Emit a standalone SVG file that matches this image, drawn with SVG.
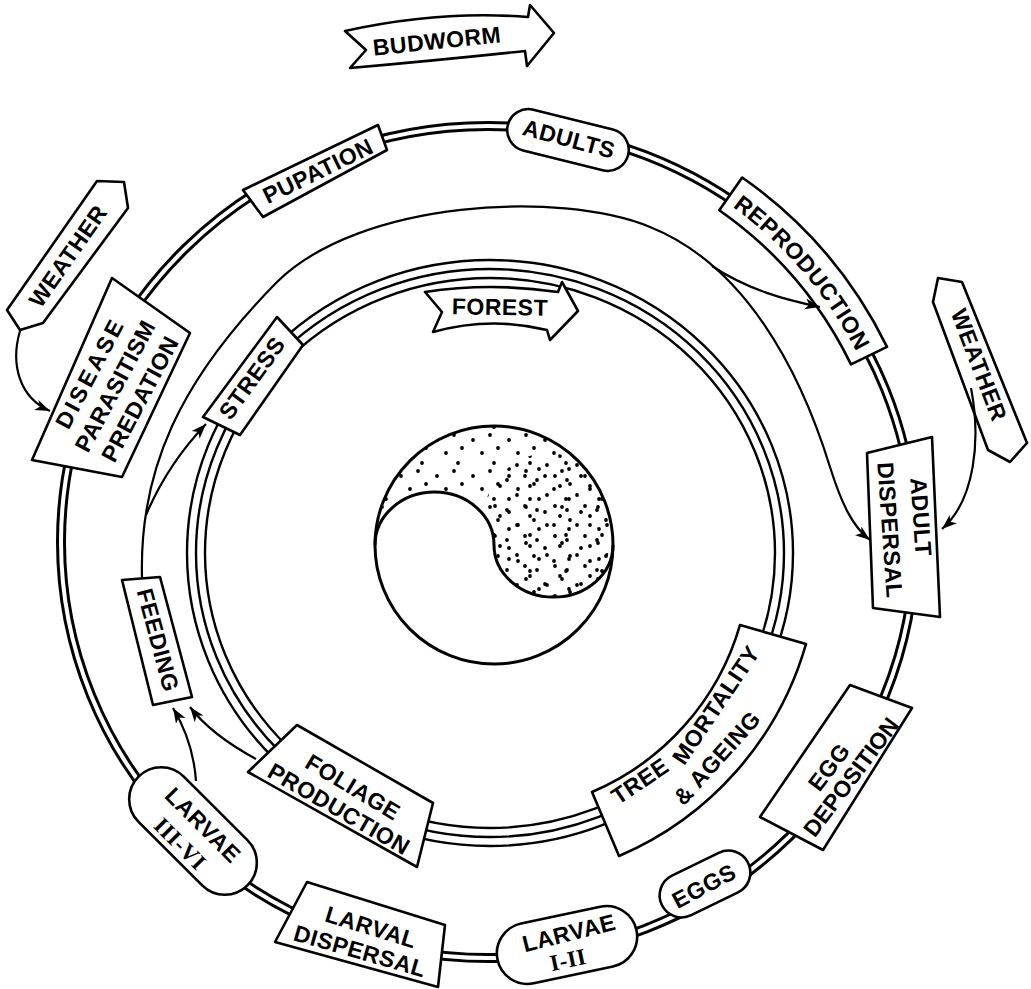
<svg xmlns="http://www.w3.org/2000/svg" width="1031" height="989" viewBox="0 0 1031 989">
<defs>
<style>
.box{fill:#fff;stroke:#000;stroke-width:2.6;stroke-linejoin:round}
.t{font-family:"Liberation Sans",Arial,sans-serif;font-weight:bold;font-size:23px;letter-spacing:0.5px;fill:#000}
.c{text-anchor:middle;dominant-baseline:central}
.sr{font-family:"Liberation Serif","Times New Roman",serif}
.con{fill:none;stroke:#000;stroke-width:2.2;marker-end:url(#ah)}
.r1{fill:none;stroke:#000;stroke-width:10}
.r1w{fill:none;stroke:#fff;stroke-width:4}
.r2{fill:none;stroke:#000;stroke-width:2.4}
</style>
<marker id="ah" viewBox="0 0 16 12" markerWidth="16" markerHeight="12" refX="15" refY="6" orient="auto" markerUnits="userSpaceOnUse"><path d="M0,0.5 L15,6 L0,11.5 L4,6 Z"/></marker>
<path id="pRep" d="M523.2,128.1 A415.5,415.5 0 0 1 901.5,571"/>
<pattern id="stA" width="36" height="36" patternUnits="userSpaceOnUse"><circle cx="5" cy="8" r="1.9"/><circle cx="22" cy="3" r="1.9"/><circle cx="14" cy="21" r="1.9"/><circle cx="30" cy="16" r="1.9"/><circle cx="26" cy="31" r="1.9"/></pattern>
<pattern id="stB" x="4" y="2" width="30" height="30" patternUnits="userSpaceOnUse"><circle cx="3" cy="13" r="1.9"/><circle cx="16" cy="4" r="1.9"/><circle cx="25" cy="17" r="1.9"/><circle cx="11" cy="24" r="1.9"/><circle cx="23" cy="28" r="1.9"/></pattern>
<clipPath id="yyClip"><path d="M375,545 A59.5,53 0 0 1 494,545 A59.5,52 0 0 0 613,545 A119,119 0 0 0 375,545 Z"/></clipPath>
</defs>
<rect width="1031" height="989" fill="#fff"/>

<g id="rings">
<ellipse class="r1" cx="488" cy="542" rx="427" ry="416"/>
<ellipse class="r1w" cx="488" cy="542" rx="427" ry="416"/>
<ellipse class="r2" cx="490" cy="553" rx="303" ry="293"/>
<ellipse class="r2" cx="490" cy="553" rx="294" ry="284"/>
<ellipse class="r2" cx="490" cy="553" rx="285" ry="275"/>
</g>

<g id="yinyang">
<circle cx="494" cy="545" r="119" fill="#fff"/>
<path d="M375,545 A59.5,53 0 0 1 494,545 A59.5,52 0 0 0 613,545 A119,119 0 0 0 375,545 Z" fill="url(#stA)"/>
<g clip-path="url(#yyClip)"><ellipse cx="548" cy="525" rx="66" ry="72" fill="url(#stB)"/></g>
<path d="M375,545 A59.5,53 0 0 1 494,545 A59.5,52 0 0 0 613,545" fill="none" stroke="#000" stroke-width="3"/>
<circle cx="494" cy="545" r="119" fill="none" stroke="#000" stroke-width="3"/>
</g>

<g id="n-budworm">
<path class="box" d="M345,31 Q440,10 528,17 L530,5 L554,33 L527,66 L525,51 Q440,60 350,68 L366,50 Z"/>
<text class="t c" transform="translate(437,41) rotate(-6)">BUDWORM</text>
</g>
<g id="n-forest">
<path class="box" d="M425,292 Q490,282 558,292 L562,282 L578,311 L550,340 L547,330 Q490,316 433,332 L442,312 Z"/>
<text class="t c" transform="translate(500,307) rotate(1)">FOREST</text>
</g>
<g id="n-adults">
<rect class="box" x="-62" y="-21" width="124" height="42" rx="21" transform="translate(568,140) rotate(14)"/>
<text class="t c" transform="translate(569,139) rotate(15)">ADULTS</text>
</g>
<g id="n-pupation">
<polygon class="box" points="243,190 378,125 387,150 263,217"/>
<text class="t c" transform="translate(318,171) rotate(-26)">PUPATION</text>
</g>
<g id="n-reproduction">
<path class="box" d="M719.3,210.2 L742.2,177.5 A445,445 0 0 1 887,346.9 L851,364.4 A405,405 0 0 0 719.3,210.2 Z"/>
<text class="t"><textPath href="#pRep" startOffset="50%" text-anchor="middle">REPRODUCTION</textPath></text>
</g>
<g id="n-weather-right">
<polygon class="box" points="933,302 938,278 962,282 1027,443 1010,462 988,450"/>
<text class="t c" transform="translate(979,365) rotate(69)">WEATHER</text>
</g>
<g id="n-weather-left">
<polygon class="box" points="97,181 124,182 128,208 43,323 20,330 7,310"/>
<text class="t c" transform="translate(68,256) rotate(-55)">WEATHER</text>
</g>
<g id="n-disease">
<polygon class="box" points="112,278 190,333 122,477 32,460"/>
<text class="t c" style="letter-spacing:3px" transform="translate(90,373) rotate(-62)">DISEASE</text>
<text class="t c" transform="translate(115,386) rotate(-62)">PARASITISM</text>
<text class="t c" transform="translate(140,399) rotate(-62)">PREDATION</text>
</g>
<g id="n-adult-dispersal">
<polygon class="box" points="867,453 932,437 940,617 873,608"/>
<text class="t c" transform="translate(921,517) rotate(86)">ADULT</text>
<text class="t c" transform="translate(890,530) rotate(86)">DISPERSAL</text>
</g>
<g id="n-egg-deposition">
<polygon class="box" points="850,685 912,708 823,850 760,817"/>
<text class="t c" transform="translate(829,767) rotate(-53)">EGG</text>
<text class="t c" style="letter-spacing:0" transform="translate(851,777) rotate(-53)">DEPOSITION</text>
</g>
<g id="n-eggs">
<rect class="box" x="-48" y="-22" width="96" height="44" rx="22" transform="translate(705,884) rotate(-26)"/>
<text class="t c" transform="translate(704,886) rotate(-28)">EGGS</text>
</g>
<g id="n-larvae-1-2">
<rect class="box" x="-71" y="-30.5" width="142" height="61" rx="30.5" transform="translate(567,945) rotate(-12)"/>
<text class="t c" transform="translate(569,933) rotate(-14)">LARVAE</text>
<text class="t c sr" transform="translate(568,960) rotate(-12)">I-II</text>
</g>
<g id="n-larval-dispersal">
<polygon class="box" points="307,882 445,925 438,987 275,942"/>
<text class="t c" transform="translate(371,927) rotate(17)">LARVAL</text>
<text class="t c" transform="translate(360,951) rotate(16)">DISPERSAL</text>
</g>
<g id="n-larvae-3-6">
<rect class="box" x="-77" y="-32" width="154" height="64" rx="32" transform="translate(193,831) rotate(45)"/>
<text class="t c" transform="translate(203,825) rotate(45)">LARVAE</text>
<text class="t c sr" transform="translate(180,844) rotate(45)">III-VI</text>
</g>
<g id="n-foliage">
<polygon class="box" points="297,725 433,803 417,867 248,772"/>
<text class="t c" transform="translate(353,787) rotate(31)">FOLIAGE</text>
<text class="t c" transform="translate(339,809) rotate(30)">PRODUCTION</text>
</g>
<g id="n-tree">
<path class="box" d="M740,625 L806,644 A329,329 0 0 1 619,856 L592,792 A260,260 0 0 0 740,625 Z"/>
<text class="t c" transform="translate(640,781) rotate(-34)">TREE</text>
<text class="t c" transform="translate(716,705) rotate(-56)">MORTALITY</text>
<text class="t c" transform="translate(717,758) rotate(-48)">&amp; AGEING</text>
</g>
<g id="n-stress">
<polygon class="box" points="277,317 303,345 240,435 203,417"/>
<text class="t c" transform="translate(252,378) rotate(-54)">STRESS</text>
</g>
<g id="n-feeding">
<polygon class="box" points="122,580 160,577 192,697 153,705"/>
<text class="t c" transform="translate(158,640) rotate(75)">FEEDING</text>
</g>

<g id="connectors">
<path class="con" d="M20,331 C10,365 20,398 50,411"/>
<path class="con" d="M971,388 C981,440 975,500 942,529"/>
<path class="con" d="M142,578 C139,470 180,380 277,282 C360,200 560,190 650,227 C745,265 800,370 830,467 C842,505 853,527 870,540"/>
<path class="con" d="M712,266 C748,290 786,300 820,307"/>
<path class="con" d="M146,515 C163,475 185,446 206,424"/>
<path class="con" d="M196,781 C194,752 185,728 173,708"/>
<path class="con" d="M256,759 C232,746 206,728 190,707"/>
</g>
</svg>
